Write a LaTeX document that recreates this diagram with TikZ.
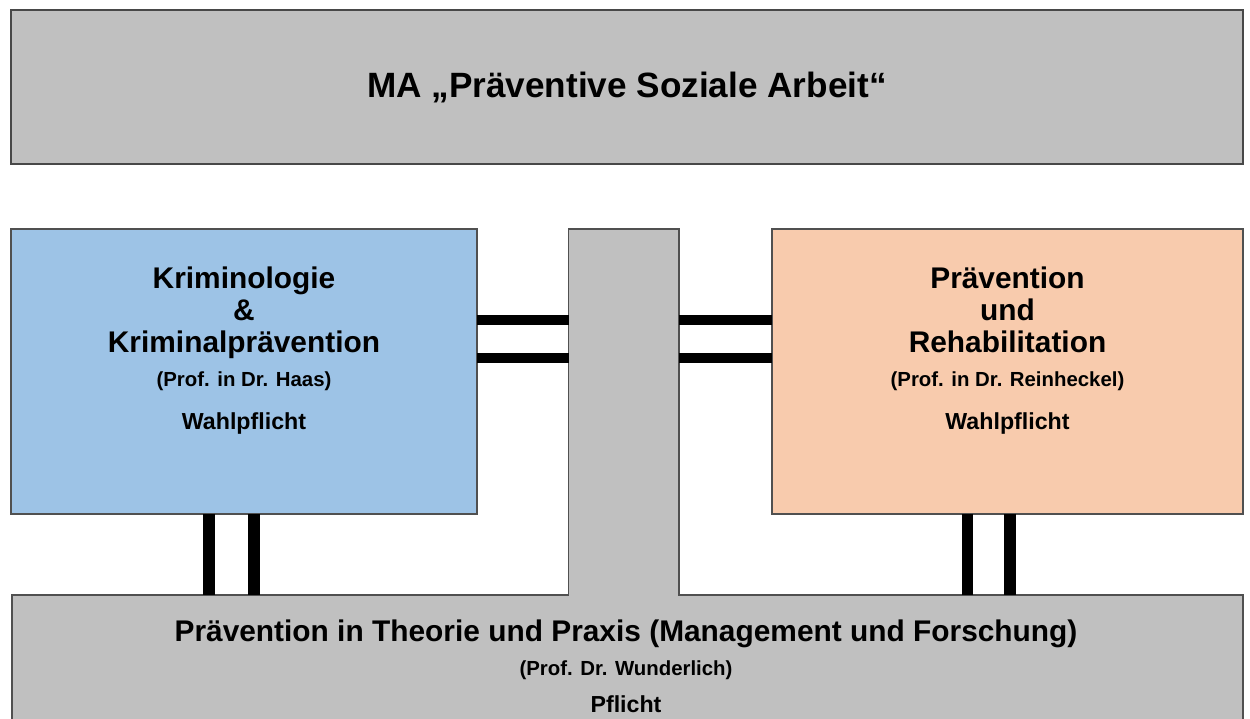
\documentclass[tikz,border=0pt]{standalone}
\usepackage{fontspec}
\setmainfont{Liberation Sans}
\definecolor{boxgray}{HTML}{C0C0C0}
\definecolor{boxblue}{HTML}{9DC3E6}
\definecolor{boxorange}{HTML}{F8CBAD}
\definecolor{edge}{HTML}{505050}
\begin{document}
\begin{tikzpicture}[x=0.02cm,y=-0.02cm,
  panel/.style={rectangle,anchor=north west,inner sep=0pt,outer sep=0pt,draw=edge,line width=0.9pt},
  txt/.style={anchor=base,inner sep=0pt,font=\bfseries},
  big/.style={txt,font=\fontsize{17}{20}\selectfont\bfseries},
  small/.style={txt,font=\fontsize{11.6}{14}\selectfont\bfseries},
  mid/.style={txt,font=\fontsize{13.2}{16}\selectfont\bfseries},
  hbar/.style={line width=0.2cm,black},
  vbar/.style={line width=0.23cm,black}]
\useasboundingbox (0,0) rectangle (1250,718);
% panels
\node[panel,fill=boxgray,line width=1.2pt,draw=edge!90!black,minimum width=24.64cm,minimum height=3.08cm] (top) at (11,10) {};
\node[panel,fill=boxblue,minimum width=9.32cm,minimum height=5.7cm] (left) at (11,229) {};
\node[panel,fill=boxorange,minimum width=9.42cm,minimum height=5.7cm] (right) at (772,229) {};
\node[panel,fill=boxgray,minimum width=24.62cm,minimum height=2.9cm] (bottom) at (12,595) {};
\node[panel,fill=boxgray,minimum width=2.21cm,minimum height=7.32cm] (column) at (568.5,229) {};
\fill[boxgray] ([xshift=0.5pt,yshift=1.2pt]column.south west) rectangle ([xshift=-0.5pt,yshift=-1.2pt]column.south east);
% helper coordinates
\coordinate (hy1) at (0,319.5);
\coordinate (hy2) at (0,358);
\coordinate (vl1) at (209,0);
\coordinate (vl2) at (254,0);
\coordinate (vr1) at (967.5,0);
\coordinate (vr2) at (1010,0);
% connectors
\draw[hbar] (left.east |- hy1) -- (column.west |- hy1);
\draw[hbar] (left.east |- hy2) -- (column.west |- hy2);
\draw[hbar] (column.east |- hy1) -- (right.west |- hy1);
\draw[hbar] (column.east |- hy2) -- (right.west |- hy2);
\draw[vbar] (left.south -| vl1) -- (bottom.north -| vl1);
\draw[vbar] (left.south -| vl2) -- (bottom.north -| vl2);
\draw[vbar] (right.south -| vr1) -- (bottom.north -| vr1);
\draw[vbar] (right.south -| vr2) -- (bottom.north -| vr2);
% texts
\node[txt,font=\fontsize{20}{24}\selectfont\bfseries] (title) at (627,97) {MA „Präventive Soziale Arbeit“};
\node[big] (l1) at (244,288) {Kriminologie};
\node[big] (l2) at (244,320) {\&};
\node[big] (l3) at (244,352.5) {Kriminalprävention};
\node[small] (l4) at (244,386) {(Prof. in Dr. Haas)};
\node[mid] (l5) at (244,429) {Wahlpflicht};
\node[big] (r1) at (1007.5,288) {Prävention};
\node[big] (r2) at (1007.5,320) {und};
\node[big] (r3) at (1007.5,352.5) {Rehabilitation};
\node[small] (r4) at (1007.5,386) {(Prof. in Dr. Reinheckel)};
\node[mid] (r5) at (1007.5,429) {Wahlpflicht};
\node[big] (b1) at (626,641) {Prävention in Theorie und Praxis (Management und Forschung)};
\node[small] (b2) at (626,675) {(Prof. Dr. Wunderlich)};
\node[mid] (b3) at (626,712) {Pflicht};
\end{tikzpicture}
\end{document}
